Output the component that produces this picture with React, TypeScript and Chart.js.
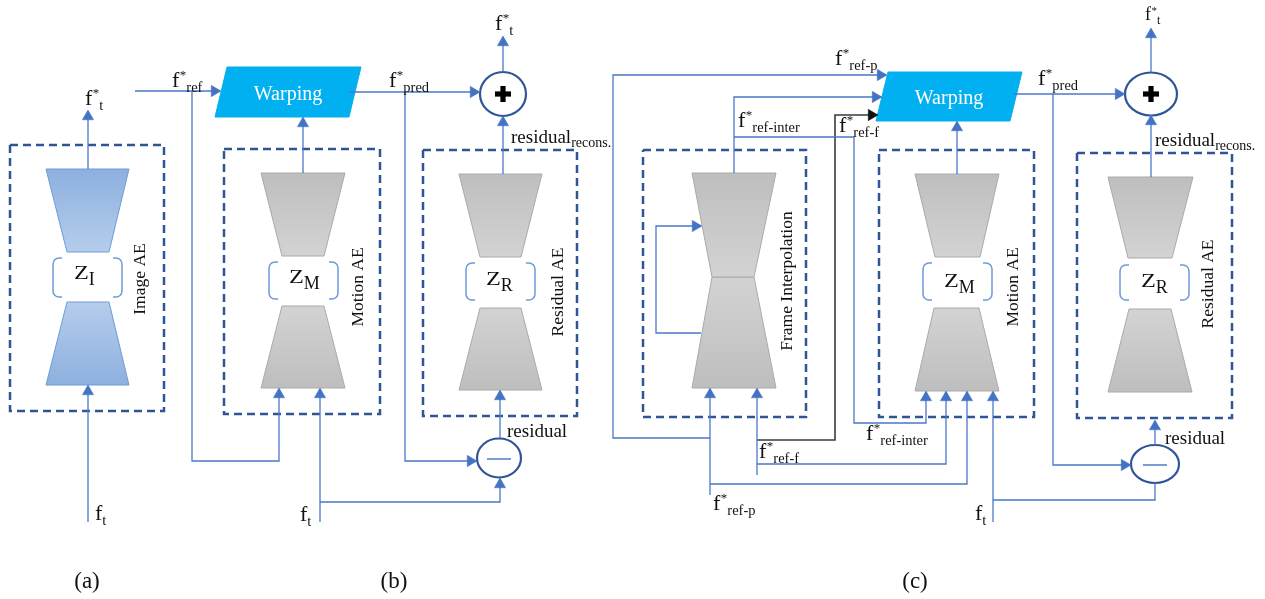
import React, { useEffect, useRef } from 'react';
import { Chart, registerables } from 'chart.js';

Chart.register(...registerables);

type P = [number, number];

const FONT = '"Liberation Serif", "Times New Roman", Times, serif';

// dashed module frames [x1, y1, x2, y2]
const moduleFrames: [number, number, number, number][] = [
  [10, 145, 164, 411],
  [224, 149, 380, 414],
  [423, 150, 577, 416],
  [643, 150, 806, 417],
  [879, 150, 1034, 417],
  [1077, 153, 1232, 418],
];

// image autoencoder (blue)
const imageCoderShapes: P[][] = [
  [[46, 169], [129, 169], [109, 252], [67, 252]],
  [[67, 302], [109, 302], [129, 385], [46, 385]],
];

// grey encoders / decoders
const greyCoderShapes: P[][] = [
  [[261, 173], [345, 173], [324, 256], [282, 256]],
  [[282, 306], [324, 306], [345, 388], [261, 388]],
  [[459, 174], [542, 174], [521, 257], [480, 257]],
  [[480, 308], [521, 308], [542, 390], [459, 390]],
  [[692, 173], [776, 173], [754, 277], [712, 277]],
  [[712, 277], [754, 277], [776, 388], [692, 388]],
  [[915, 174], [999, 174], [980, 257], [935, 257]],
  [[934, 308], [979, 308], [999, 391], [915, 391]],
  [[1108, 177], [1193, 177], [1172, 258], [1128, 258]],
  [[1129, 309], [1171, 309], [1192, 392], [1108, 392]],
];

const warpingBlocks: P[][] = [
  [[227, 67], [361, 67], [349, 117], [215, 117]],
  [[888, 72], [1022, 72], [1010, 121], [876, 121]],
];

const blueConnectors: P[][] = [
  [[88, 169], [88, 111]],
  [[88, 522], [88, 386]],
  [[135, 91], [220, 91]],
  [[192, 91], [192, 461], [279, 461], [279, 389]],
  [[320, 522], [320, 389]],
  [[303, 173], [303, 118]],
  [[349, 92], [479, 92]],
  [[405, 92], [405, 461], [476, 461]],
  [[320, 502], [500, 502], [500, 479]],
  [[500, 438], [500, 391]],
  [[503, 72], [503, 37]],
  [[503, 174], [503, 117]],
  [[886, 75], [613, 75], [613, 438], [710, 438]],
  [[710, 495], [710, 389]],
  [[710, 484], [967, 484], [967, 392]],
  [[734, 173], [734, 97], [881, 97]],
  [[734, 137], [854, 137], [854, 423], [926, 423], [926, 392]],
  [[757, 475], [757, 389]],
  [[757, 464], [946, 464], [946, 392]],
  [[701, 333], [656, 333], [656, 226], [701, 226]],
  [[957, 174], [957, 122]],
  [[993, 522], [993, 392]],
  [[993, 500], [1155, 500], [1155, 483]],
  [[1014, 94], [1124, 94]],
  [[1053, 94], [1053, 465], [1130, 465]],
  [[1151, 72], [1151, 29]],
  [[1151, 177], [1151, 116]],
  [[1155, 445], [1155, 421]],
];

const blackConnectors: P[][] = [
  [[877, 115], [835, 115], [835, 440], [757, 440]],
];

// arrow tips: x, y, direction (deg, 0 = up, 90 = right)
const blueArrowTips: [number, number, number][] = [
  [88, 110, 0], [88, 385, 0],
  [221, 91, 90], [279, 388, 0], [320, 388, 0], [303, 117, 0], [480, 92, 90],
  [503, 36, 0], [503, 116, 0], [477, 461, 90], [500, 478, 0], [500, 390, 0],
  [887, 75, 90], [882, 97, 90], [702, 226, 90], [710, 388, 0], [757, 388, 0],
  [957, 121, 0], [926, 391, 0], [946, 391, 0], [967, 391, 0], [993, 391, 0],
  [1125, 94, 90], [1151, 28, 0], [1151, 115, 0], [1131, 465, 90], [1155, 420, 0],
];
const blackArrowTips: [number, number, number][] = [[878, 115, 90]];

// operator nodes: cx, cy, rx, ry, kind
const operatorNodes: [number, number, number, number, string][] = [
  [503, 94, 23, 22, 'plus'],
  [499, 458, 22, 19.5, 'minus'],
  [1151, 94, 26, 21.5, 'plus'],
  [1155, 464, 24, 19, 'minus'],
];

// latent code brackets [x1, y1, x2, y2]
const latentBrackets: [number, number, number, number][] = [
  [53, 258, 122, 297],
  [269, 262, 338, 299],
  [466, 263, 535, 300],
  [923, 263, 992, 300],
  [1120, 265, 1189, 300],
];
const latentLabels: [string, string, number, number][] = [
  ['Z', 'I', 74, 279],
  ['Z', 'M', 289, 283],
  ['Z', 'R', 486, 285],
  ['Z', 'M', 944, 287],
  ['Z', 'R', 1141, 287],
];

// signal labels: main, sup, sub, x (left), y (baseline), size
const signalLabels: [string, string, string, number, number, number][] = [
  ['f', '*', 't', 85, 105, 22],
  ['f', '', 't', 95, 520, 22],
  ['f', '*', 'ref', 172, 87, 22],
  ['f', '*', 'pred', 389, 87, 22],
  ['f', '*', 't', 495, 30, 22],
  ['f', '', 't', 300, 521, 22],
  ['f', '*', 'ref-p', 835, 65, 22],
  ['f', '*', 'ref-inter', 738, 127, 22],
  ['f', '*', 'ref-f', 839, 132, 22],
  ['f', '*', 'ref-inter', 866, 440, 22],
  ['f', '*', 'ref-f', 759, 458, 22],
  ['f', '*', 'ref-p', 713, 510, 22],
  ['f', '*', 'pred', 1038, 85, 22],
  ['f', '*', 't', 1145, 20, 18],
  ['f', '', 't', 975, 520, 22],
];

const residualLabels: [string, string, number, number][] = [
  ['residual', 'recons.', 511, 143],
  ['residual', '', 507, 437],
  ['residual', 'recons.', 1155, 146],
  ['residual', '', 1165, 444],
];

const moduleTitles: [string, number, number][] = [
  ['Image AE', 140, 279],
  ['Motion AE', 358, 287],
  ['Residual AE', 558, 292],
  ['Frame Interpolation', 787, 281],
  ['Motion AE', 1013, 287],
  ['Residual AE', 1208, 284],
];

const blockTitles: [string, number, number][] = [
  ['Warping', 288, 100],
  ['Warping', 949, 104],
];

const panelCaptions: [string, number, number][] = [
  ['(a)', 87, 582],
  ['(b)', 394, 582],
  ['(c)', 915, 582],
];

const ARROW_R = 6.5;

const toXY = (p: P) => ({ x: p[0], y: p[1] });

function gradientFill(poly: P[], dark: string, light: string) {
  return (c: any) => {
    const chart = c.chart;
    const ys = chart.scales?.y;
    if (!ys || !chart.chartArea) return dark;
    const yVals = poly.map((p) => p[1]);
    const top = Math.min(...yVals);
    const bot = Math.max(...yVals);
    const widthAt = (yy: number) => {
      const xs = poly.filter((p) => p[1] === yy).map((p) => p[0]);
      return Math.max(...xs) - Math.min(...xs);
    };
    const topWide = widthAt(top) > widthAt(bot);
    const g = chart.ctx.createLinearGradient(0, ys.getPixelForValue(top), 0, ys.getPixelForValue(bot));
    g.addColorStop(0, topWide ? dark : light);
    g.addColorStop(1, topWide ? light : dark);
    return g;
  };
}

function buildDatasets() {
  const ds: any[] = [];
  moduleFrames.forEach(([x1, y1, x2, y2]) => {
    ds.push({
      data: ([[x1, y1], [x2, y1], [x2, y2], [x1, y2], [x1, y1]] as P[]).map(toXY),
      showLine: true, borderColor: '#2F5597', borderWidth: 2.5, borderDash: [8, 5],
      pointRadius: 0, fill: false, order: 6,
    });
  });
  imageCoderShapes.forEach((poly) => {
    ds.push({
      data: [...poly, poly[0]].map(toXY), showLine: true, fill: 'shape',
      backgroundColor: gradientFill(poly, '#8DB0DF', '#B5CDEC'),
      borderColor: '#6E9BD6', borderWidth: 1, pointRadius: 0, order: 5,
    });
  });
  greyCoderShapes.forEach((poly) => {
    ds.push({
      data: [...poly, poly[0]].map(toXY), showLine: true, fill: 'shape',
      backgroundColor: gradientFill(poly, '#BEBEBE', '#D3D3D3'),
      borderColor: '#AAAAAA', borderWidth: 1, pointRadius: 0, order: 5,
    });
  });
  warpingBlocks.forEach((poly) => {
    ds.push({
      data: [...poly, poly[0]].map(toXY), showLine: true, fill: 'shape',
      backgroundColor: '#00B0F0', borderColor: '#00B0F0', borderWidth: 1,
      pointRadius: 0, order: 5,
    });
  });
  blueConnectors.forEach((line) => {
    ds.push({
      data: line.map(toXY), showLine: true, fill: false, borderColor: '#4A78C9',
      borderWidth: 1.3, pointRadius: 0, order: 3,
    });
  });
  blackConnectors.forEach((line) => {
    ds.push({
      data: line.map(toXY), showLine: true, fill: false, borderColor: '#3A3A3A',
      borderWidth: 1.6, pointRadius: 0, order: 3,
    });
  });
  const arrowSet = (tips: [number, number, number][], color: string) => ({
    data: tips.map(([x, y, rot]) => ({
      x: x - ARROW_R * Math.sin((rot * Math.PI) / 180),
      y: y + ARROW_R * Math.cos((rot * Math.PI) / 180),
    })),
    showLine: false, pointStyle: 'triangle', pointRadius: ARROW_R,
    pointRotation: tips.map((t) => t[2]), pointBackgroundColor: color,
    pointBorderColor: color, pointBorderWidth: 0.5, order: 1,
  });
  ds.push(arrowSet(blueArrowTips, '#4472C4'));
  ds.push(arrowSet(blackArrowTips, '#111111'));
  return ds;
}

function richText(ctx: CanvasRenderingContext2D, x: number, y: number, main: string, sup: string, sub: string, size: number, subSize: number) {
  ctx.font = `${size}px ${FONT}`;
  ctx.fillText(main, x, y);
  let cx = x + ctx.measureText(main).width;
  if (sup) {
    ctx.font = `${Math.round(subSize * 0.9)}px ${FONT}`;
    ctx.fillText(sup, cx + 0.5, y - size * 0.36);
    cx += ctx.measureText(sup).width + 0.5;
  }
  if (sub) {
    ctx.font = `${subSize}px ${FONT}`;
    ctx.fillText(sub, cx, y + size * 0.23);
  }
}

const decorPlugin = {
  id: 'diagramDecor',
  beforeDatasetsDraw(chart: any) {
    const ctx: CanvasRenderingContext2D = chart.ctx;
    const xs = chart.scales.x;
    const ys = chart.scales.y;
    operatorNodes.forEach(([cx, cy, rx, ry, kind]) => {
      const px = xs.getPixelForValue(cx);
      const py = ys.getPixelForValue(cy);
      const prx = xs.getPixelForValue(cx + rx) - px;
      const pry = ys.getPixelForValue(cy + ry) - py;
      ctx.save();
      ctx.beginPath();
      ctx.ellipse(px, py, Math.abs(prx), Math.abs(pry), 0, 0, Math.PI * 2);
      ctx.fillStyle = '#FFFFFF';
      ctx.fill();
      ctx.lineWidth = 2.2;
      ctx.strokeStyle = '#2F5597';
      ctx.stroke();
      if (kind === 'plus') {
        ctx.fillStyle = '#000000';
        const a = 8;
        const t = 2.6;
        ctx.fillRect(px - a, py - t, 2 * a, 2 * t);
        ctx.fillRect(px - t, py - a, 2 * t, 2 * a);
      } else {
        ctx.strokeStyle = '#4472C4';
        ctx.lineWidth = 1.4;
        ctx.beginPath();
        ctx.moveTo(px - 12, py + 1);
        ctx.lineTo(px + 12, py + 1);
        ctx.stroke();
      }
      ctx.restore();
    });
  },
  afterDatasetsDraw(chart: any) {
    const ctx: CanvasRenderingContext2D = chart.ctx;
    const xs = chart.scales.x;
    const ys = chart.scales.y;
    const X = (v: number) => xs.getPixelForValue(v);
    const Y = (v: number) => ys.getPixelForValue(v);
    ctx.save();
    // latent brackets
    ctx.strokeStyle = '#6E9BD6';
    ctx.lineWidth = 1.5;
    latentBrackets.forEach(([x1, y1, x2, y2]) => {
      const l = X(x1), r = X(x2), t = Y(y1), b = Y(y2);
      const rad = 6;
      const stub = 3;
      ctx.beginPath();
      ctx.moveTo(l + rad + stub, t);
      ctx.lineTo(l + rad, t);
      ctx.arcTo(l, t, l, t + rad, rad);
      ctx.lineTo(l, b - rad);
      ctx.arcTo(l, b, l + rad, b, rad);
      ctx.lineTo(l + rad + stub, b);
      ctx.stroke();
      ctx.beginPath();
      ctx.moveTo(r - rad - stub, t);
      ctx.lineTo(r - rad, t);
      ctx.arcTo(r, t, r, t + rad, rad);
      ctx.lineTo(r, b - rad);
      ctx.arcTo(r, b, r - rad, b, rad);
      ctx.lineTo(r - rad - stub, b);
      ctx.stroke();
    });
    ctx.fillStyle = '#111111';
    ctx.textAlign = 'left';
    ctx.textBaseline = 'alphabetic';
    latentLabels.forEach(([main, sub, x, y]) => {
      ctx.save();
      ctx.translate(X(x), Y(y));
      ctx.scale(1.35, 1);
      ctx.font = `18px ${FONT}`;
      ctx.fillText(main, 0, 0);
      const w = ctx.measureText(main).width * 1.35;
      ctx.restore();
      ctx.font = `18px ${FONT}`;
      ctx.fillText(sub, X(x) + w, Y(y) + 6);
    });
    signalLabels.forEach(([main, sup, sub, x, y, size]) => {
      richText(ctx, X(x), Y(y), main, sup, sub, size, size >= 22 ? 14.5 : 12);
    });
    residualLabels.forEach(([main, sub, x, y]) => {
      richText(ctx, X(x), Y(y), main, '', sub, 19, 14);
    });
    // vertical module titles
    ctx.font = `17.5px ${FONT}`;
    ctx.textAlign = 'center';
    ctx.textBaseline = 'middle';
    moduleTitles.forEach(([t, x, y]) => {
      ctx.save();
      ctx.translate(X(x), Y(y));
      ctx.rotate(-Math.PI / 2);
      ctx.fillText(t, 0, 0);
      ctx.restore();
    });
    // warping block titles
    ctx.textBaseline = 'alphabetic';
    ctx.fillStyle = '#FFFFFF';
    ctx.font = `20px ${FONT}`;
    blockTitles.forEach(([t, x, y]) => ctx.fillText(t, X(x), Y(y)));
    // panel captions
    ctx.fillStyle = '#111111';
    ctx.font = `23px ${FONT}`;
    ctx.textBaseline = 'middle';
    panelCaptions.forEach(([t, x, y]) => ctx.fillText(t, X(x), Y(y)));
    ctx.restore();
  },
};

export default function App() {
  const canvasRef = useRef<HTMLCanvasElement>(null);
  useEffect(() => {
    document.body.style.margin = '0';
    const canvas = canvasRef.current;
    if (!canvas) return;
    const chart = new Chart(canvas, {
      type: 'scatter',
      data: { datasets: buildDatasets() },
      options: {
        animation: false,
        responsive: false,
        maintainAspectRatio: false,
        events: [],
        layout: { padding: 0, autoPadding: false },
        scales: {
          x: { type: 'linear', min: 0, max: 1265, display: false },
          y: { type: 'linear', min: 0, max: 599, reverse: true, display: false },
        },
        plugins: { legend: { display: false }, tooltip: { enabled: false } },
      },
      plugins: [decorPlugin],
    } as any);
    return () => chart.destroy();
  }, []);
  return (
    <div style={{ width: 1265, height: 599, background: '#FFFFFF', position: 'relative' }}>
      <canvas ref={canvasRef} width={1265} height={599} style={{ display: 'block', width: 1265, height: 599 }} />
    </div>
  );
}
